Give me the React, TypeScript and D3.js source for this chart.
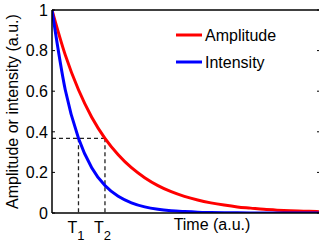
import React from "react";
import * as d3 from "d3";

const times = [0, 0.25, 0.5, 0.75, 1, 1.25, 1.5, 1.75, 2, 2.25, 2.5, 2.75, 3, 3.25, 3.5, 3.75, 4, 4.25, 4.5, 4.75, 5, 5.1];
const amplitude = [1, 0.779, 0.607, 0.472, 0.368, 0.287, 0.223, 0.174, 0.135, 0.105, 0.082, 0.064, 0.05, 0.039, 0.03, 0.024, 0.018, 0.014, 0.011, 0.009, 0.007, 0.006];
const intensity = [1, 0.607, 0.368, 0.223, 0.135, 0.082, 0.05, 0.03, 0.018, 0.011, 0.007, 0.004, 0.0025, 0.0015, 0.001, 0.0006, 0.0003, 0.0002, 0.0001, 0.0001, 0, 0];
const yTicks = [0, 0.2, 0.4, 0.6, 0.8, 1];
const yTickLabels = ["0", "0.2", "0.4", "0.6", "0.8", "1"];
const markTimes = [0.5, 1];
const markLabels = ["1", "2"];
const level = 0.368;
const seriesNames = ["Amplitude", "Intensity"];
const seriesColors = ["#ff0000", "#0000ff"];

const W = 319;
const H = 247;
const left = 52;
const right = 320;
const top = 10;
const bottom = 213;

export default function App() {
  const x = d3.scaleLinear().domain([0, 5.06]).range([left, right]);
  const y = d3.scaleLinear().domain([0, 1]).range([bottom, top]);
  const line = d3
    .line<number>()
    .x((_, i) => x(times[i]))
    .y((d) => y(d))
    .curve(d3.curveMonotoneX);
  const font = "'Liberation Sans', Arial, sans-serif";
  return (
    <svg
      width={W}
      height={H}
      style={{ position: "absolute", left: 0, top: 0, background: "#fff" }}
      fontFamily={font}
    >
      <defs>
        <clipPath id="plot">
          <rect x={left} y={top - 2} width={right - left} height={bottom - top + 2} />
        </clipPath>
      </defs>
      <rect width={W} height={H} fill="#fff" />
      {/* dashed guides */}
      <g stroke="#222" strokeWidth={1.3} strokeDasharray="4,3" fill="none">
        <line x1={x(0)} x2={x(markTimes[1])} y1={y(level)} y2={y(level)} />
        {markTimes.map((t, i) => (
          <line key={i} x1={x(t)} x2={x(t)} y1={y(level)} y2={y(0)} />
        ))}
      </g>
      <g clipPath="url(#plot)" fill="none" strokeWidth={3}>
        <path d={line(amplitude) || ""} stroke={seriesColors[0]} />
        <path d={line(intensity) || ""} stroke={seriesColors[1]} />
      </g>
      {/* axes box */}
      <g stroke="#000" strokeWidth={1.5} fill="none">
        <line x1={left} x2={left} y1={top} y2={bottom} />
        <line x1={left} x2={W} y1={bottom} y2={bottom} />
        <line x1={left} x2={W} y1={top} y2={top} />
      </g>
      <g stroke="#000" strokeWidth={1}>
        {yTicks.map((v, i) => (
          <g key={i}>
            <line x1={left} x2={left + 3} y1={y(v)} y2={y(v)} />
            <line x1={right - 3} x2={right} y1={y(v)} y2={y(v)} />
          </g>
        ))}
      </g>
      <g fontSize={16} fill="#000" textAnchor="end">
        {yTicks.map((v, i) => (
          <text key={i} x={left - 4} y={y(v)} dy="0.36em">
            {yTickLabels[i]}
          </text>
        ))}
      </g>
      {markTimes.map((t, i) => (
        <text key={i} x={x(t) - 11} y={233} fontSize={16} fill="#000">
          T
          <tspan fontSize={13} dy={7}>
            {markLabels[i]}
          </tspan>
        </text>
      ))}
      <text x={212} y={230} fontSize={16} textAnchor="middle" fill="#000">
        Time (a.u.)
      </text>
      <text
        transform={`translate(18,${(top + bottom) / 2}) rotate(-90)`}
        fontSize={16}
        textAnchor="middle"
        fill="#000"
      >
        Amplitude or intensity (a.u.)
      </text>
      {seriesNames.map((n, i) => (
        <g key={n}>
          <line x1={176} x2={202} y1={35 + i * 27} y2={35 + i * 27} stroke={seriesColors[i]} strokeWidth={3} />
          <text x={205} y={41 + i * 27} fontSize={16} fill="#000">
            {n}
          </text>
        </g>
      ))}
    </svg>
  );
}
